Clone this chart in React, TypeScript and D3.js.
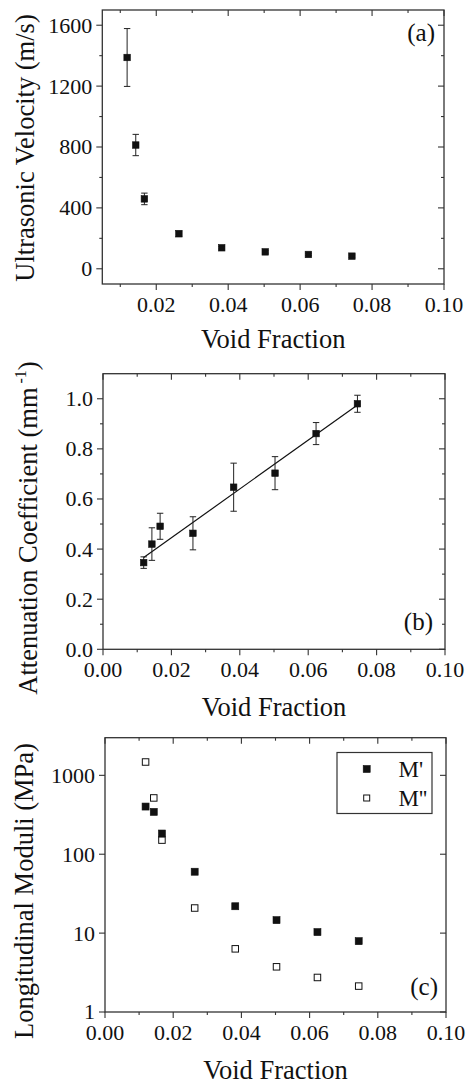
import React from "react";
import * as d3 from "d3";

// ---------- data ----------
const voidFraction = [0.0119, 0.0143, 0.0167, 0.0263, 0.0382, 0.0503, 0.0623, 0.0744];
const velocity = [1388, 813, 459, 230, 138, 111, 94, 83];
const velocityErr = [190, 70, 38, 18, 8, 8, 8, 8];
const attenuation = [0.346, 0.42, 0.491, 0.463, 0.647, 0.703, 0.861, 0.98];
const attenuationErr = [0.023, 0.065, 0.052, 0.066, 0.096, 0.066, 0.044, 0.034];
const fitSlope = 9.75;
const fitIntercept = 0.25;
const modulusStorage = [402, 344, 183, 60, 21.9, 14.6, 10.3, 7.9]; // M'
const modulusLoss = [1476, 517, 151, 20.8, 6.32, 3.74, 2.74, 2.13]; // M''
const legendLabels = ["M'", "M''"];
const xTicksA = [0.02, 0.04, 0.06, 0.08, 0.1];
const xMinorA = [0.01, 0.03, 0.05, 0.07, 0.09];
const xTicksBC = [0, 0.02, 0.04, 0.06, 0.08, 0.1];
const xMinorBC = [0.01, 0.03, 0.05, 0.07, 0.09];
const yTicksA = [0, 400, 800, 1200, 1600];
const yMinorA = [200, 600, 1000, 1400];
const yTicksB = [0, 0.2, 0.4, 0.6, 0.8, 1.0];
const yMinorB = [0.1, 0.3, 0.5, 0.7, 0.9];
const yTicksC = [1, 10, 100, 1000];

const FONT = "'Liberation Serif', 'Times New Roman', serif";
const AX = "#333";
const MAJ = 6;
const MIN = 3;

type Scale = (v: number) => number;

function Frame({ x, y, xt, xm, yt, ym, xfmt, yfmt, left, right, top, bottom }: any) {
  const els: any[] = [];
  els.push(
    <rect key="box" x={left} y={top} width={right - left} height={bottom - top} fill="none" stroke={AX} strokeWidth={1.3} />
  );
  xt.forEach((v: number, i: number) => {
    const px = x(v);
    els.push(<line key={"xb" + i} x1={px} x2={px} y1={bottom} y2={bottom + MAJ} stroke={AX} strokeWidth={1.1} />);
    els.push(<line key={"xt" + i} x1={px} x2={px} y1={top} y2={top + MAJ} stroke={AX} strokeWidth={1.1} />);
    els.push(
      <text key={"xl" + i} x={px} y={bottom + 27.5} textAnchor="middle" fontSize={22} fontFamily={FONT} fill="#111">
        {xfmt(v)}
      </text>
    );
  });
  xm.forEach((v: number, i: number) => {
    const px = x(v);
    els.push(<line key={"xmb" + i} x1={px} x2={px} y1={bottom} y2={bottom + MIN} stroke={AX} strokeWidth={1.1} />);
    els.push(<line key={"xmt" + i} x1={px} x2={px} y1={top} y2={top + MIN} stroke={AX} strokeWidth={1.1} />);
  });
  yt.forEach((v: number, i: number) => {
    const py = y(v);
    els.push(<line key={"yl" + i} x1={left - MAJ} x2={left} y1={py} y2={py} stroke={AX} strokeWidth={1.1} />);
    els.push(<line key={"yr" + i} x1={right - MAJ} x2={right} y1={py} y2={py} stroke={AX} strokeWidth={1.1} />);
    els.push(
      <text key={"ytl" + i} x={left - 10} y={py} dy="0.34em" textAnchor="end" fontSize={22} fontFamily={FONT} fill="#111">
        {yfmt(v)}
      </text>
    );
  });
  ym.forEach((v: number, i: number) => {
    const py = y(v);
    els.push(<line key={"yml" + i} x1={left - MIN} x2={left} y1={py} y2={py} stroke={AX} strokeWidth={1.1} />);
    els.push(<line key={"ymr" + i} x1={right - MIN} x2={right} y1={py} y2={py} stroke={AX} strokeWidth={1.1} />);
  });
  return <g>{els}</g>;
}

function Square({ cx, cy, s = 6.5, open = false }: any) {
  return (
    <rect
      x={cx - s / 2}
      y={cy - s / 2}
      width={s}
      height={s}
      fill={open ? "#fff" : "#111"}
      stroke="#111"
      strokeWidth={open ? 1 : 0.6}
    />
  );
}

function ErrBar({ px, yHi, yLo, cap = 3.2 }: any) {
  return (
    <g stroke="#222" strokeWidth={1}>
      <line x1={px} x2={px} y1={yHi} y2={yLo} />
      <line x1={px - cap} x2={px + cap} y1={yHi} y2={yHi} />
      <line x1={px - cap} x2={px + cap} y1={yLo} y2={yLo} />
    </g>
  );
}

export default function App() {
  const fx2 = d3.format(".2f");
  const fy1 = d3.format(".1f");
  const fint = d3.format("d");

  // panel a
  const A = { left: 102.3, right: 444, top: 10, bottom: 284 };
  const xa = d3.scaleLinear().domain([0.005, 0.1]).range([A.left, A.right]);
  const ya = d3.scaleLinear().domain([-100, 1700]).range([A.bottom, A.top]);

  // panel b
  const B = { left: 103, right: 445, top: 373.7, bottom: 649.3 };
  const xb = d3.scaleLinear().domain([0, 0.1]).range([B.left, B.right]);
  const yb = d3.scaleLinear().domain([0, 1.1]).range([B.bottom, B.top]);
  const fitX = [voidFraction[0], voidFraction[voidFraction.length - 1]];
  const fitLine = d3
    .line<number>()
    .x((d) => xb(d))
    .y((d) => yb(fitIntercept + fitSlope * d))(fitX);

  // panel c
  const C = { left: 105, right: 446, top: 737.7, bottom: 1012 };
  const xc = d3.scaleLinear().domain([0, 0.1]).range([C.left, C.right]);
  const yc = d3.scaleLog().domain([1, 3000]).range([C.bottom, C.top]);

  const titleStyle = { fontSize: 26.5, fontFamily: FONT, fill: "#111" } as any;

  return (
    <svg width={466} height={1084} style={{ position: "absolute", left: 0, top: 0, background: "#fff" }}>
      <rect width={466} height={1084} fill="#fff" />
      {/* ---------- panel a ---------- */}
      <Frame x={xa} y={ya} xt={xTicksA} xm={xMinorA} yt={yTicksA} ym={yMinorA} xfmt={fx2} yfmt={fint} {...A} />
      {voidFraction.map((v, i) => (
        <g key={"a" + i}>
          <ErrBar px={xa(v)} yHi={ya(velocity[i] + velocityErr[i])} yLo={ya(velocity[i] - velocityErr[i])} />
          <Square cx={xa(v)} cy={ya(velocity[i])} />
        </g>
      ))}
      <text x={435} y={41} textAnchor="end" {...titleStyle} fontSize={25}>(a)</text>
      <text x={(A.left + A.right) / 2} y={A.bottom + 64} textAnchor="middle" {...titleStyle}>Void Fraction</text>
      <text transform={`translate(34,148) rotate(-90)`} textAnchor="middle" {...titleStyle}>Ultrasonic Velocity (m/s)</text>

      {/* ---------- panel b ---------- */}
      <Frame x={xb} y={yb} xt={xTicksBC} xm={xMinorBC} yt={yTicksB} ym={yMinorB} xfmt={fx2} yfmt={fy1} {...B} />
      <path d={fitLine || ""} fill="none" stroke="#111" strokeWidth={1.2} />
      {voidFraction.map((v, i) => (
        <g key={"b" + i}>
          <ErrBar px={xb(v)} yHi={yb(attenuation[i] + attenuationErr[i])} yLo={yb(attenuation[i] - attenuationErr[i])} />
          <Square cx={xb(v)} cy={yb(attenuation[i])} />
        </g>
      ))}
      <text x={433} y={630} textAnchor="end" {...titleStyle} fontSize={25}>(b)</text>
      <text x={(B.left + B.right) / 2} y={B.bottom + 66.5} textAnchor="middle" {...titleStyle}>Void Fraction</text>
      <text transform={`translate(37,528) rotate(-90)`} textAnchor="middle" {...titleStyle}>
        Attenuation Coefficient (mm
        <tspan fontSize={16} dx={4} dy={-11}>-1</tspan>
        <tspan dy={11}>)</tspan>
      </text>

      {/* ---------- panel c ---------- */}
      <Frame x={xc} y={yc} xt={xTicksBC} xm={xMinorBC} yt={yTicksC} ym={[]} xfmt={fx2} yfmt={fint} {...C} />
      {voidFraction.map((v, i) => (
        <g key={"c" + i}>
          <Square cx={xc(v)} cy={yc(modulusLoss[i])} open s={6.5} />
          <Square cx={xc(v)} cy={yc(modulusStorage[i])} s={7} />
        </g>
      ))}
      <rect x={337} y={752.5} width={95} height={61} fill="#fff" stroke={AX} strokeWidth={1.2} />
      <Square cx={366.7} cy={769} s={7} />
      <Square cx={366.7} cy={798} s={6} open />
      <text x={398.5} y={776.5} fontSize={23} fontFamily={FONT} fill="#111">{legendLabels[0]}</text>
      <text x={398.5} y={805.5} fontSize={23} fontFamily={FONT} fill="#111">{legendLabels[1]}</text>
      <text x={438} y={995} textAnchor="end" {...titleStyle} fontSize={25}>(c)</text>
      <text x={(C.left + C.right) / 2} y={C.bottom + 66.5} textAnchor="middle" {...titleStyle}>Void Fraction</text>
      <text transform={`translate(33,891) rotate(-90)`} textAnchor="middle" {...titleStyle}>Longitudinal Moduli (MPa)</text>
    </svg>
  );
}
